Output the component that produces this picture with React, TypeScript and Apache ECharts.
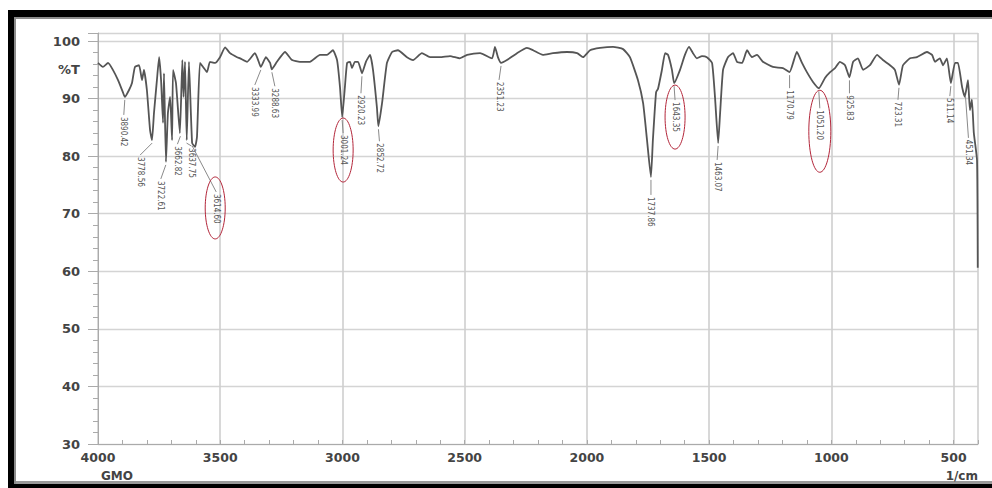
import React, { useEffect, useRef } from "react";
import * as echarts from "echarts";

// ---- spectrum data (wavenumber in 1/cm, transmittance in %T) ----
const wavenumbers = [
  4000, 3980, 3959, 3939, 3918, 3898, 3890, 3873, 3861, 3849, 3832, 3820, 3812, 3800, 3787, 3779, 3771, 3759, 3750,
  3742, 3734, 3730, 3722, 3714, 3705, 3697, 3693, 3681, 3665, 3655, 3650, 3644, 3637, 3628, 3615, 3603, 3595, 3583,
  3570, 3554, 3542, 3521, 3501, 3480, 3460, 3431, 3419, 3390, 3358, 3345, 3334, 3313, 3296, 3289, 3268, 3235, 3206,
  3174, 3133, 3092, 3063, 3039, 3022, 3010, 3001, 2990, 2981, 2969, 2961, 2949, 2936, 2920, 2904, 2887, 2875, 2859,
  2853, 2838, 2818, 2797, 2773, 2736, 2711, 2675, 2642, 2601, 2560, 2520, 2490, 2437, 2388, 2376, 2364, 2351, 2327,
  2286, 2245, 2220, 2180, 2139, 2081, 2040, 2016, 1987, 1946, 1893, 1852, 1824, 1791, 1770, 1754, 1738, 1730, 1717,
  1709, 1693, 1680, 1668, 1652, 1643, 1619, 1599, 1582, 1566, 1550, 1529, 1509, 1488, 1476, 1463, 1455, 1443, 1423,
  1402, 1386, 1365, 1345, 1325, 1304, 1280, 1239, 1198, 1171, 1141, 1120, 1100, 1075, 1051, 1026, 1005, 985, 965,
  944, 926, 911, 891, 870, 842, 813, 789, 760, 740, 723, 707, 678, 650, 609, 588, 576, 556, 543, 527, 511, 494, 482,
  465, 454, 441, 433, 425, 417, 404, 401,
];
const transmittance = [
  96.2, 95.5, 96.2, 95.0, 93.2, 91.1, 90.3, 91.5, 92.7, 95.5, 95.8, 93.2, 95.0, 91.5, 84.5, 82.8, 87.5, 93.2, 97.2,
  93.2, 85.8, 94.4, 79.0, 87.5, 90.3, 82.8, 95.0, 92.7, 84.0, 96.7, 90.3, 96.4, 82.8, 96.4, 82.3, 81.6, 83.4, 96.2,
  95.5, 94.6, 96.4, 96.2, 97.2, 98.9, 97.9, 97.2, 97.0, 96.4, 97.9, 96.7, 95.5, 97.2, 96.2, 95.1, 96.4, 98.1, 96.7,
  96.4, 96.4, 97.6, 97.6, 98.4, 96.7, 92.0, 86.8, 92.0, 96.2, 96.4, 95.3, 96.4, 96.4, 94.4, 96.4, 97.6, 95.0, 88.5,
  85.2, 89.2, 96.2, 98.1, 98.4, 97.2, 96.7, 97.9, 97.2, 97.2, 97.4, 97.0, 97.6, 97.9, 97.0, 99.0, 97.2, 96.2, 96.7,
  97.9, 98.8, 98.4, 97.6, 97.9, 98.1, 97.9, 97.2, 98.4, 98.8, 99.0, 98.6, 97.2, 93.2, 89.2, 82.8, 76.4, 82.8, 91.1,
  91.7, 95.0, 97.9, 97.6, 95.0, 92.7, 95.0, 97.6, 99.0, 97.9, 97.0, 97.4, 97.2, 96.2, 90.3, 82.3, 87.5, 95.0, 97.2,
  97.9, 96.4, 96.2, 98.4, 97.2, 97.6, 96.4, 95.5, 95.3, 94.6, 98.1, 96.2, 94.6, 92.9, 91.8, 93.6, 94.6, 95.3, 96.4,
  95.8, 93.7, 96.4, 97.0, 95.0, 95.8, 97.6, 96.7, 95.8, 95.0, 92.4, 95.8, 97.0, 97.2, 98.1, 97.6, 96.4, 97.0, 95.8,
  97.0, 92.7, 96.2, 96.2, 92.0, 90.3, 93.2, 88.0, 89.8, 84.0, 79.3, 60.6,
];

// ---- labelled peaks ----
const peakWavenumbers = [
  3890.42, 3778.56, 3722.61, 3662.82, 3637.75, 3614.6, 3333.99, 3288.63, 3001.24, 2920.23, 2852.72, 2351.23, 1737.86,
  1643.35, 1463.07, 1170.79, 1051.2, 925.83, 723.31, 511.14, 451.34,
];
const peakTransmittance = [
  90.3, 82.8, 79.0, 84.0, 82.8, 82.3, 95.5, 95.1, 86.8, 94.4, 85.2, 96.2, 76.4, 92.7, 82.3, 94.6, 91.8, 93.7, 92.4,
  92.7, 91.0,
];
const peakLabels = [
  "3890.42", "3778.56", "3722.61", "3662.82", "3637.75", "3614.60", "3333.99", "3288.63", "3001.24", "2920.23",
  "2852.72", "2351.23", "1737.86", "1643.35", "1463.07", "1170.79", "1051.20", "925.83", "723.31", "511.14", "451.34",
];
// peaks circled in red
const highlightedPeaks = ["3614.60", "3001.24", "1643.35", "1051.20"];

// ---- axis tick labels ----
const yTickValues = [30, 40, 50, 60, 70, 80, 90, 100];
const xTickValues = [4000, 3500, 3000, 2500, 2000, 1500, 1000, 500];

// ---- layout (pixel offsets of label text relative to the peak point) ----
const labelOffsets: Record<string, [number, number]> = {
  "3890.42": [-1, 20],
  "3778.56": [-12, 17],
  "3722.61": [-5, 19],
  "3662.82": [-3, 13],
  "3637.75": [5, 8],
  "3614.60": [24, 51],
  "3333.99": [-6, 20],
  "3288.63": [3, 19],
  "3001.24": [1, 18],
  "2920.23": [-1, 22],
  "2852.72": [1, 17],
  "2351.23": [-2, 19],
  "1737.86": [0, 20],
  "1643.35": [1, 19],
  "1463.07": [-1, 19],
  "1170.79": [0, 18],
  "1051.20": [1, 22],
  "925.83": [0, 18],
  "723.31": [-1, 17],
  "511.14": [-1, 15],
  "451.34": [3, 47],
};
// ellipse: [dx, dy, rx, ry] relative to peak point
const ellipseLayout: Record<string, [number, number, number, number]> = {
  "3614.60": [23, 65, 10, 31],
  "3001.24": [1, 33, 10, 32],
  "1643.35": [1, 34, 10, 32],
  "1051.20": [1, 43, 11, 41],
};

const FONT = "'DejaVu Sans', Verdana, sans-serif";
const LABEL_FONT = "'DejaVu Sans Condensed', 'Liberation Sans Narrow', 'DejaVu Sans', sans-serif";

export default function App() {
  const ref = useRef<HTMLDivElement>(null);

  useEffect(() => {
    if (!ref.current) return;
    const chart = echarts.init(ref.current, undefined, { renderer: "svg" });

    const lineData = wavenumbers.map((w, i) => [w, transmittance[i]]);
    const peakData = peakWavenumbers.map((w, i) => [w, peakTransmittance[i], i]);

    const option: any = {
      animation: false,
      backgroundColor: "transparent",
      grid: { left: 98, right: 14, top: 33, bottom: 44, show: false },
      xAxis: {
        type: "value",
        inverse: true,
        min: 400,
        max: 4000,
        splitNumber: 7,
        axisLine: { show: true, lineStyle: { color: "#aaa", width: 1 } },
        axisTick: { show: true, inside: true, length: 4, lineStyle: { color: "#aaa" } },
        minorTick: { show: true, splitNumber: 5, length: 4, lineStyle: { color: "#aaa" } },
        minorSplitLine: { show: false },
        splitLine: { show: true, lineStyle: { color: "#cfcfcf", width: 1.6 } },
        axisLabel: {
          margin: 7,
          color: "#444",
          fontSize: 12.5,
          fontWeight: "bold",
          fontFamily: FONT,
          formatter: (v: number) => (xTickValues.indexOf(v) >= 0 ? String(v) : ""),
        },
      },
      yAxis: {
        type: "value",
        min: 30,
        max: 101.4,
        interval: 10,
        axisLine: { show: true, lineStyle: { color: "#aaa", width: 1 } },
        axisTick: { show: true, inside: false, length: 10, lineStyle: { color: "#aaa" } },
        minorTick: { show: true, splitNumber: 5, length: 5, lineStyle: { color: "#aaa" } },
        splitLine: { show: true, lineStyle: { color: "#d4d4d4", width: 1.4 } },
        axisLabel: {
          margin: 18,
          color: "#444",
          fontSize: 13,
          fontWeight: "bold",
          fontFamily: FONT,
          formatter: (v: number) => (yTickValues.indexOf(v) >= 0 ? String(v) : ""),
        },
      },
      graphic: [
        {
          type: "text",
          x: 80,
          y: 69,
          style: { text: "%T", align: "right", verticalAlign: "middle", fill: "#444", font: `bold 13px ${FONT}` },
        },
        {
          type: "text",
          x: 101,
          y: 476,
          style: { text: "GMO", align: "left", verticalAlign: "middle", fill: "#444", font: `bold 12px ${FONT}` },
        },
        {
          type: "text",
          x: 978,
          y: 476,
          style: { text: "1/cm", align: "right", verticalAlign: "middle", fill: "#444", font: `bold 12px ${FONT}` },
        },
      ],
      series: [
        {
          type: "line",
          data: lineData,
          symbol: "none",
          smooth: 0.15,
          lineStyle: { color: "#555", width: 1.8 },
          z: 2,
        },
        {
          type: "custom",
          coordinateSystem: "cartesian2d",
          data: peakData,
          encode: { x: 0, y: 1 },
          clip: false,
          z: 3,
          renderItem: (params: any, api: any) => {
            const idx = api.value(2);
            const label = peakLabels[idx];
            const p = api.coord([api.value(0), api.value(1)]);
            const off = labelOffsets[label] || [0, 18];
            const lx = p[0] + off[0];
            const ly = p[1] + off[1];
            const children: any[] = [
              {
                type: "line",
                shape: { x1: p[0], y1: p[1] + 3, x2: lx, y2: ly - 2 },
                style: { stroke: "#8a8a8a", lineWidth: 1 },
              },
              {
                type: "text",
                x: lx,
                y: ly,
                rotation: -Math.PI / 2,
                style: {
                  text: label,
                  fill: "#555",
                  font: `8px ${LABEL_FONT}`,
                  align: "left",
                  verticalAlign: "middle",
                },
              },
            ];
            if (highlightedPeaks.indexOf(label) >= 0) {
              const e = ellipseLayout[label];
              children.push({
                type: "ellipse",
                shape: { cx: p[0] + e[0], cy: p[1] + e[1], rx: e[2], ry: e[3] },
                style: { fill: "none", stroke: "#b3263a", lineWidth: 1 },
              });
            }
            return { type: "group", children };
          },
        },
      ],
    };

    chart.setOption(option);
    return () => chart.dispose();
  }, []);

  return (
    <div
      style={{
        position: "fixed",
        left: 0,
        top: 0,
        width: 992,
        height: 488,
        background: "#fff",
        overflow: "hidden",
      }}
    >
      <div
        style={{
          position: "absolute",
          left: 8,
          top: 10,
          width: 1000,
          height: 478,
          boxSizing: "border-box",
          borderLeft: "6px solid #000",
          borderTop: "7px solid #000",
          borderBottom: "4px solid #000",
          boxShadow: "inset 2px 2px 0 #8c8c8c, inset 0 -3px 0 #9a9a9a",
        }}
      />
      <div ref={ref} style={{ position: "absolute", left: 0, top: 0, width: 992, height: 488 }} />
    </div>
  );
}
